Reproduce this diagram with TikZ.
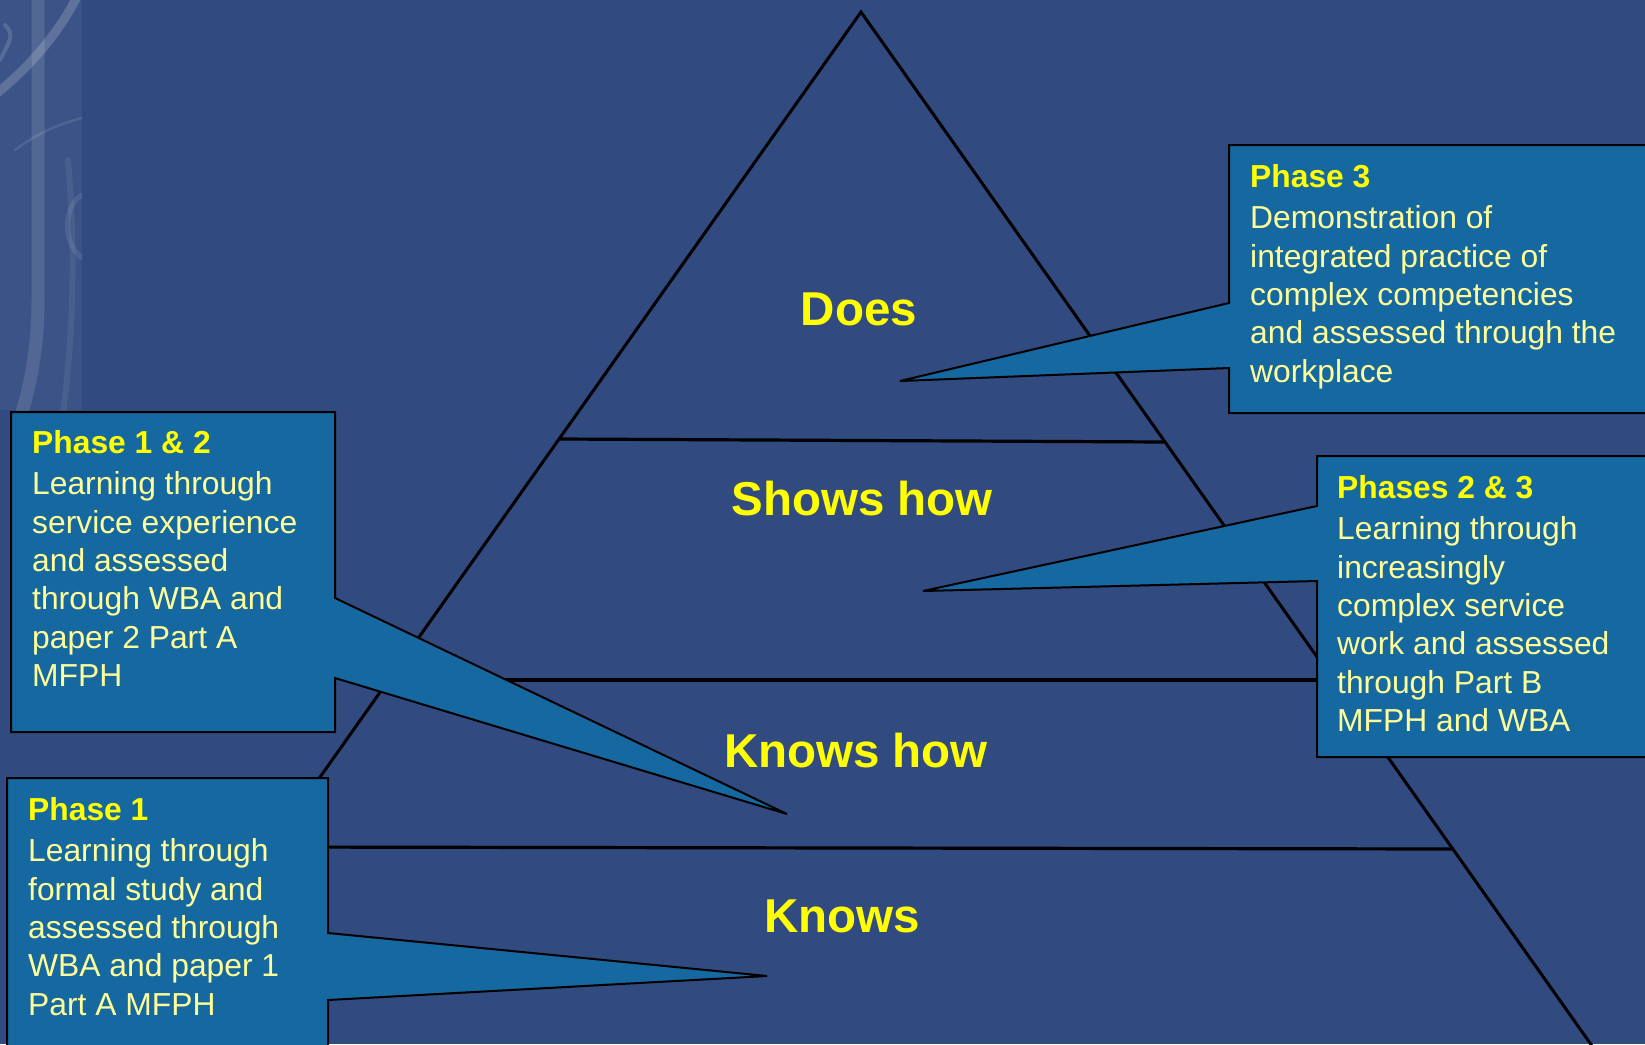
\documentclass[tikz,border=0pt]{standalone}
\usepackage{fontspec}
\setmainfont{Liberation Sans}
\definecolor{bgblue}{HTML}{314A80}
\definecolor{callfill}{HTML}{1668A0}
\definecolor{titleyellow}{HTML}{FFFF00}
\definecolor{bodyyellow}{HTML}{FFFF99}
\newcommand{\calltext}[2]{\parbox[t]{440pt}{\fontsize{31.8}{38.3}\selectfont\textcolor{titleyellow}{\bfseries #1}\\[3.5pt]\color{bodyyellow}#2}}
\tikzset{
  tri/.style={line width=3pt, black, line join=miter},
  tier/.style={line width=3.2pt, black},
  callout/.style={fill=callfill, draw=black, line width=2pt, line join=miter},
  level/.style={anchor=base, inner sep=0pt, text=titleyellow, font=\fontsize{47.5}{50}\selectfont\bfseries},
  calltxt/.style={anchor=base west, inner sep=0pt},
  deco/.style={white, line cap=round}
}
\begin{document}
\begin{tikzpicture}[x=1pt, y=-1pt]
\clip (0,0) rectangle (1645,1044);
\fill[bgblue] (0,0) rectangle (1645,1044);
% top-left decoration
\begin{scope}
\clip (0,0) rectangle (82,410);
\fill[white, opacity=0.05] (0,0) rectangle (82,410);
\draw[deco, line width=13pt, opacity=0.12] (38,-10) -- (38,300) .. controls (38,350) and (30,385) .. (20,420);
\draw[deco, line width=6pt, opacity=0.07] (68,160) .. controls (74,230) and (76,320) .. (62,420);
\draw[deco, line width=9pt, opacity=0.18] (-5,95) .. controls (25,70) and (55,40) .. (78,-5);
\draw[deco, line width=4pt, opacity=0.14] (0,60) .. controls (10,40) and (15,35) .. (5,25);
\draw[deco, line width=2.5pt, opacity=0.10] (15,150) .. controls (35,135) and (55,125) .. (82,118);
\draw[deco, line width=5pt, opacity=0.09] (82,195) .. controls (65,205) and (60,240) .. (82,258);
\end{scope}
% pyramid
\draw[tri] (120,1060) -- (861,12) -- (1602,1060);
\draw[tier] (559,439) -- (1165,442);
\draw[tier] (389,680) -- (1320,680);
\draw[tier] (270,847) -- (1453,849);
% level labels
\node[level] (does) at (859,325) {Does};
\node[level] (shows) at (862,515) {Shows how};
\node[level] (knowshow) at (856,767) {Knows how};
\node[level] (knows) at (842,932) {Knows};
% callouts
\draw[callout] (11,412) -- (335,412) -- (335,598) -- (787,814) -- (335,678) -- (335,732) -- (11,732) -- cycle;
\draw[callout] (7,778) -- (328,778) -- (328,933) -- (767,976) -- (328,1000) -- (328,1070) -- (7,1070) -- cycle;
\draw[callout] (1229,145) -- (1670,145) -- (1670,413) -- (1229,413) -- (1229,368) -- (900,381) -- (1229,303) -- cycle;
\draw[callout] (1317,456) -- (1670,456) -- (1670,757) -- (1317,757) -- (1317,581) -- (923,591) -- (1317,506) -- cycle;
% callout texts
\node[calltxt] (p12) at (32,453) {\calltext{Phase 1 \& 2}{Learning through\\service experience\\and assessed\\through WBA and\\paper 2 Part A\\MFPH}};
\node[calltxt] (p1) at (28,820) {\calltext{Phase 1}{Learning through\\formal study and\\assessed through\\WBA and paper 1\\Part A MFPH}};
\node[calltxt] (p3) at (1250,187) {\calltext{Phase 3}{Demonstration of\\integrated practice of\\complex competencies\\and assessed through the\\workplace}};
\node[calltxt] (p23) at (1337,498) {\calltext{Phases 2 \& 3}{Learning through\\increasingly\\complex service\\work and assessed\\through Part B\\MFPH and WBA}};
\end{tikzpicture}
\end{document}
